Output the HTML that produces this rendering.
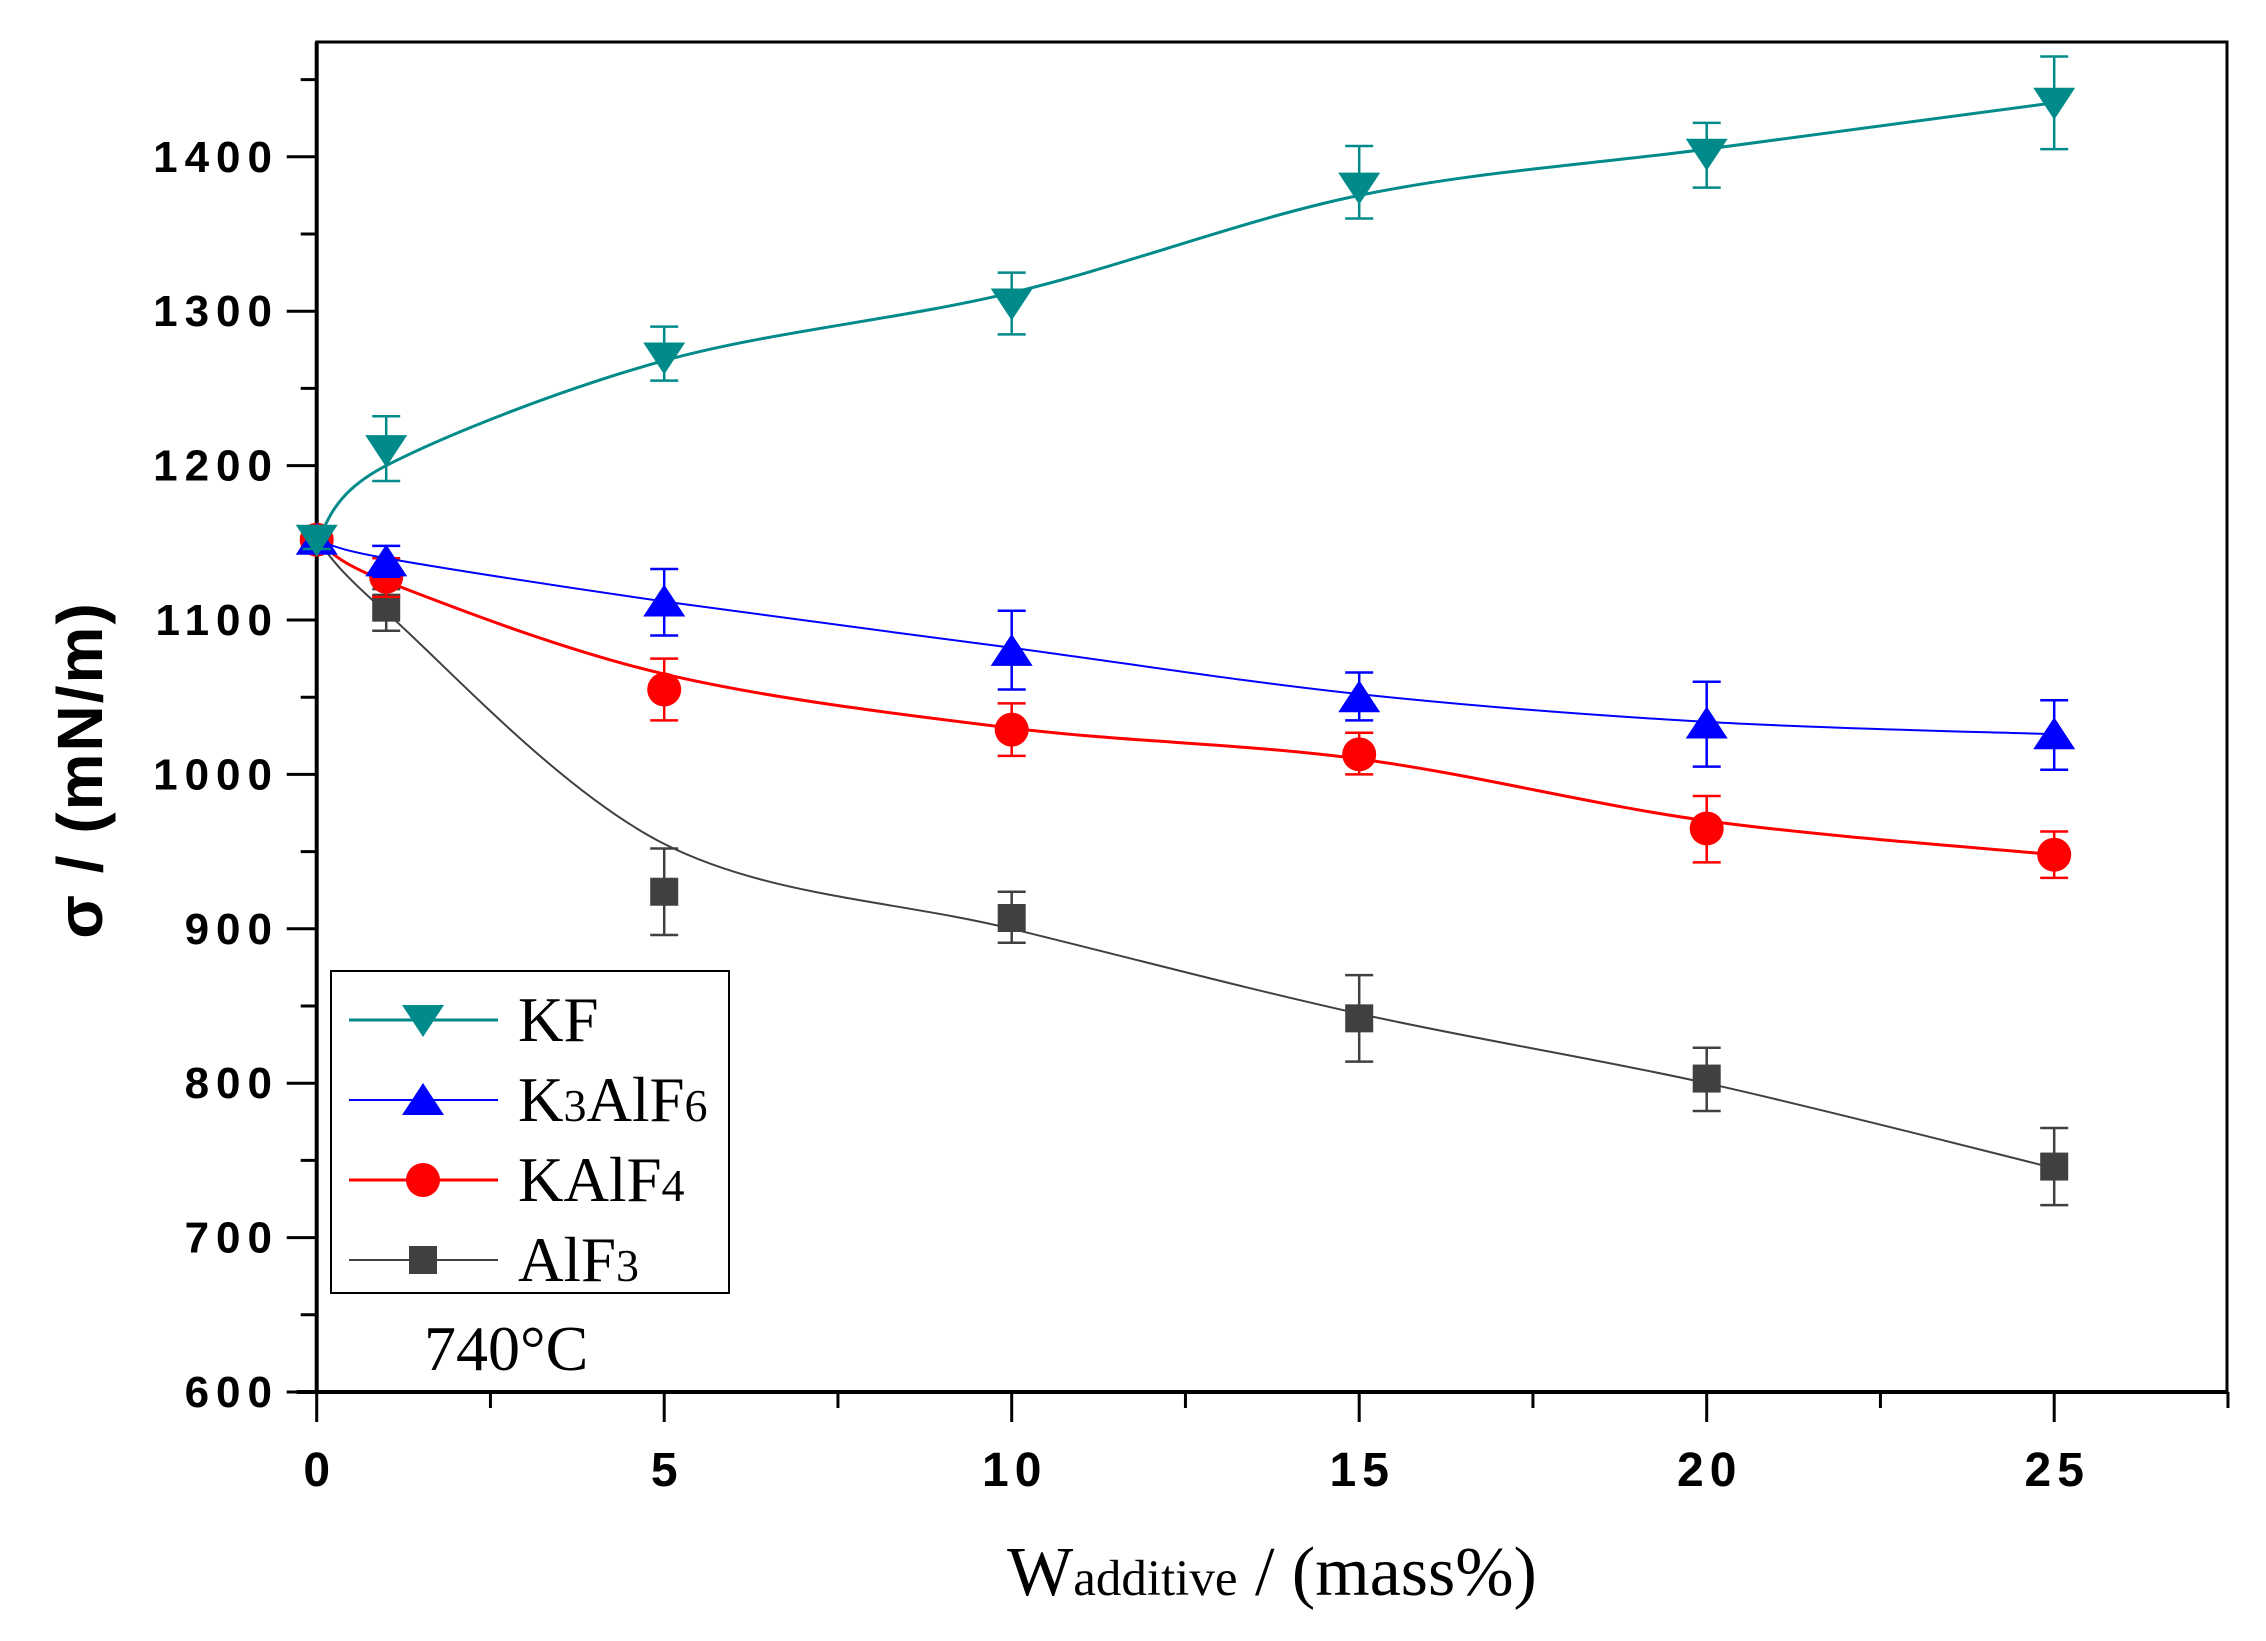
<!DOCTYPE html>
<html><head><meta charset="utf-8"><style>
html,body{margin:0;padding:0;background:#fff;}
svg{display:block;}
</style></head><body>
<svg id="chart" width="2266" height="1641" viewBox="0 0 2266 1641" xmlns="http://www.w3.org/2000/svg">
<g id="axes"></g>
<g id="series"></g>
<g id="legend"></g>
</svg>
<script>
const xValues = [0, 1, 5, 10, 15, 20, 25];
const kfValues = [1152, 1210, 1270, 1305, 1380, 1402, 1435];
const kfErrLow = [1146, 1190, 1255, 1285, 1360, 1380, 1405];
const kfErrHigh = [1158, 1232, 1290, 1325, 1407, 1422, 1465];
const kfFit = [1152, 1200, 1268, 1312, 1375, 1405, 1435];
const k3Values = [1152, 1138, 1112, 1080, 1050, 1033, 1026];
const k3ErrLow = [1146, 1128, 1090, 1055, 1035, 1005, 1003];
const k3ErrHigh = [1158, 1148, 1133, 1106, 1066, 1060, 1048];
const k3Fit = [1152, 1140, 1112, 1082, 1052, 1034, 1026];
const kaValues = [1152, 1128, 1055, 1029, 1013, 965, 948];
const kaErrLow = [1146, 1115, 1035, 1012, 1000, 943, 933];
const kaErrHigh = [1158, 1140, 1075, 1046, 1027, 986, 963];
const kaFit = [1152, 1125, 1065, 1030, 1010, 970, 948];
const alValues = [1152, 1108, 924, 907, 842, 803, 746];
const alErrLow = [1146, 1093, 896, 891, 814, 782, 721];
const alErrHigh = [1158, 1120, 952, 924, 870, 823, 771];
const alFit = [1152, 1105, 955, 900, 845, 800, 745];
const xTickLabels = [0, 5, 10, 15, 20, 25];
const yTickLabels = [600, 700, 800, 900, 1000, 1100, 1200, 1300, 1400];
const legendLabels = ['KF', 'K3AlF6', 'KAlF4', 'AlF3'];

const NS = 'http://www.w3.org/2000/svg';
const X0 = 316.7, XU = 69.5, Y0 = 1392, YU = 1.544;
const L = 316.7, R = 2227, T = 42, B = 1392;
function xs(v){ return X0 + v * XU; }
function ys(v){ return Y0 - (v - 600) * YU; }
function mk(tag, attrs, parent){
  const e = document.createElementNS(NS, tag);
  for (const k in attrs) e.setAttribute(k, attrs[k]);
  parent.appendChild(e);
  return e;
}
const axes = document.getElementById('axes');
const series = document.getElementById('series');
const legend = document.getElementById('legend');

let fr = mk('rect', {x:L, y:T, width:R-L, height:B-T, fill:'none', stroke:'#000', 'stroke-width':3}, axes);


mk('line', {x1:L, y1:T, x2:L, y2:B, stroke:'#000', 'stroke-width':4}, axes);
mk('line', {x1:L-20, y1:B, x2:R, y2:B, stroke:'#000', 'stroke-width':4}, axes);

for (let v = 600; v <= 1450; v += 50) {
  const major = v % 100 === 0;
  const t = mk('line', {x1:L - (major ? 30 : 16), y1:ys(v), x2:L, y2:ys(v), stroke:'#000', 'stroke-width':3}, axes);
  
  
}
yTickLabels.forEach(v => {
  const t = mk('text', {x:279, y:ys(v)+15, 'text-anchor':'end', 'font-family':'Liberation Sans, sans-serif', 'font-size':44, 'font-weight':'bold', fill:'#000', 'letter-spacing':'7'}, axes);
  t.textContent = v;
  
  
});
for (let v = 0; v <= 27.5; v += 2.5) {
  const major = v % 5 === 0;
  const t = mk('line', {x1:xs(v), y1:B, x2:xs(v), y2:B + (major ? 30 : 16), stroke:'#000', 'stroke-width':3}, axes);
  
  
}
xTickLabels.forEach(v => {
  const t = mk('text', {x:xs(v)+3, y:1486, 'text-anchor':'middle', 'font-family':'Liberation Sans, sans-serif', 'font-size':48, 'font-weight':'bold', fill:'#000', 'letter-spacing':'6'}, axes);
  t.textContent = v;
  
  
});
let xt = mk('text', {x:1272, y:1595, 'text-anchor':'middle', 'font-family':'Liberation Serif, serif', 'font-size':70, fill:'#000'}, axes);
xt.innerHTML = 'W<tspan font-size="51">additive</tspan> / (mass%)';


let yt = mk('text', {x:0, y:0, transform:'translate(102,770) rotate(-90)', 'text-anchor':'middle', 'font-family':'Liberation Sans, sans-serif', 'font-size':64, 'font-weight':'bold', fill:'#000', 'letter-spacing':'2'}, axes);
yt.textContent = 'σ / (mN/m)';


let tt = mk('text', {x:424, y:1370, 'font-family':'Liberation Serif, serif', 'font-size':64, fill:'#000'}, axes);
tt.textContent = '740°C';



function smoothPath(xsArr, ysArr){
  const p = xsArr.map((x,i)=>[xs(x), ys(ysArr[i])]);
  let d = 'M' + p[0][0] + ',' + p[0][1];
  for (let i = 0; i < p.length - 1; i++) {
    const p0 = p[Math.max(0,i-1)], p1 = p[i], p2 = p[i+1], p3 = p[Math.min(p.length-1,i+2)];
    const c1 = [p1[0] + (p2[0]-p0[0])/6, p1[1] + (p2[1]-p0[1])/6];
    const c2 = [p2[0] - (p3[0]-p1[0])/6, p2[1] - (p3[1]-p1[1])/6];
    d += 'C' + c1 + ' ' + c2 + ' ' + p2;
  }
  return d;
}
function marker(shape, cx, cy, color, parent){
  let e;
  if (shape === 'down') e = mk('polygon', {points:`${cx-21},${cy-15} ${cx+21},${cy-15} ${cx},${cy+17}`, fill:color}, parent);
  else if (shape === 'up') e = mk('polygon', {points:`${cx-21},${cy+15} ${cx+21},${cy+15} ${cx},${cy-17}`, fill:color}, parent);
  else if (shape === 'circle') e = mk('circle', {cx:cx, cy:cy, r:17, fill:color}, parent);
  else e = mk('rect', {x:cx-14, y:cy-14, width:28, height:28, fill:color}, parent);
  return e;
}
const defs = [
  {name:'kf', color:'#008b8a', shape:'down', vals:kfValues, lo:kfErrLow, hi:kfErrHigh, fit:kfFit, w:3},
  {name:'k3alf6', color:'#0000ff', shape:'up', vals:k3Values, lo:k3ErrLow, hi:k3ErrHigh, fit:k3Fit, w:2},
  {name:'kalf4', color:'#ff0000', shape:'circle', vals:kaValues, lo:kaErrLow, hi:kaErrHigh, fit:kaFit, w:3},
  {name:'alf3', color:'#404040', shape:'square', vals:alValues, lo:alErrLow, hi:alErrHigh, fit:alFit, w:2}
];
defs.slice().reverse().forEach(s => {
  const g = mk('g', {}, series);
  
  
  const line = mk('path', {d:smoothPath(xValues, s.fit), fill:'none', stroke:s.color, 'stroke-width':s.w}, g);
  
  
  xValues.forEach((x,i) => {
    const cx = xs(x);
    const eb = mk('path', {d:`M${cx},${ys(s.lo[i])}V${ys(s.hi[i])}M${cx-14},${ys(s.lo[i])}h28M${cx-14},${ys(s.hi[i])}h28`, stroke:s.color, 'stroke-width':2.5, fill:'none'}, g);
    
    
    const m = marker(s.shape, cx, ys(s.vals[i]), s.color, g);
    
    
  });
});
let lb = mk('rect', {x:331, y:971, width:398, height:322, fill:'#fff', stroke:'#000', 'stroke-width':2}, legend);


const legY = [1020, 1100, 1180, 1260];
defs.forEach((s,i) => {
  const g = mk('g', {}, legend);
  
  
  mk('line', {x1:349, y1:legY[i], x2:498, y2:legY[i], stroke:s.color, 'stroke-width':s.w}, g);
  marker(s.shape, 423, legY[i], s.color, g);
  const t = mk('text', {x:518, y:legY[i]+21, 'font-family':'Liberation Serif, serif', 'font-size':63, fill:'#000'}, g);
  const lab = legendLabels[i];
  if (lab === 'K3AlF6') t.innerHTML = 'K<tspan font-size="46">3</tspan>AlF<tspan font-size="46">6</tspan>';
  else if (lab === 'KAlF4') t.innerHTML = 'KAlF<tspan font-size="46">4</tspan>';
  else if (lab === 'AlF3') t.innerHTML = 'AlF<tspan font-size="46">3</tspan>';
  else t.textContent = lab;
});
</script>
</body></html>
